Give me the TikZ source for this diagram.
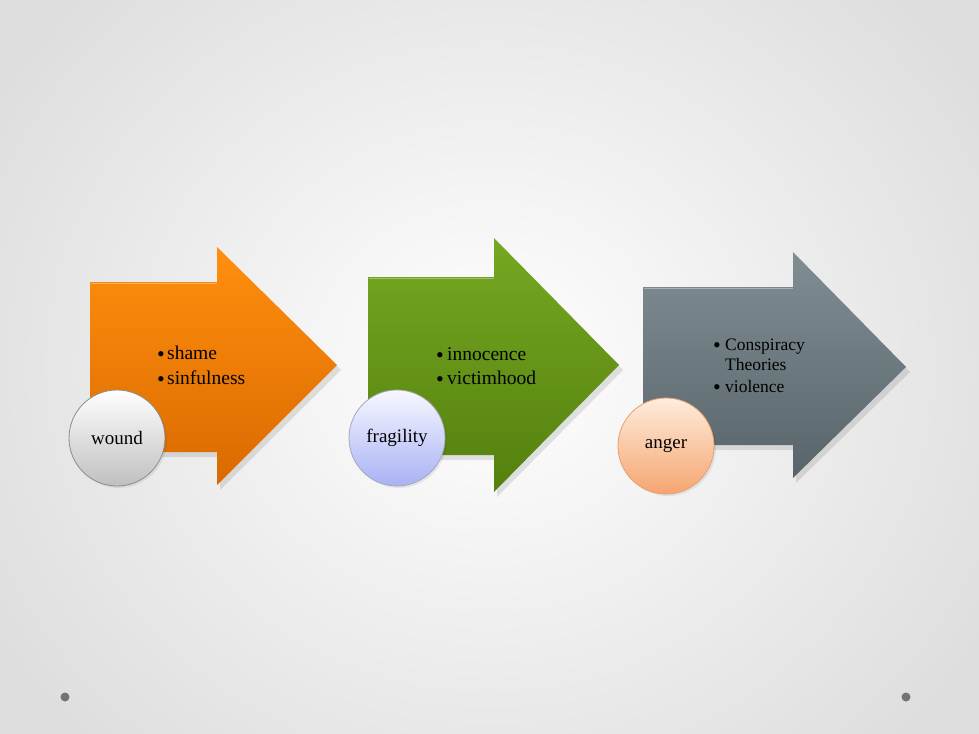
\documentclass[tikz,border=0pt]{standalone}
\usepackage{fontspec}
\setmainfont{Liberation Serif}
\begin{document}
\begin{tikzpicture}[x=1pt,y=-1pt,
  arrowshape/.style={draw=none},
  shadowshape/.style={fill=black,opacity=0.10,draw=none},
  circ/.style={circle,minimum size=96pt,inner sep=0pt,line width=0.8pt,font=\fontsize{19}{22}\selectfont},
  itm/.style={anchor=base west,inner sep=0pt,font=\fontsize{19.5}{24}\selectfont},
  itms/.style={anchor=base west,inner sep=0pt,font=\fontsize{17.5}{21}\selectfont},
  bul/.style={anchor=base,inner sep=0pt,yshift=-2pt,font=\fontsize{22}{24}\selectfont},
  dot/.style={circle,fill=black!55,inner sep=0pt,minimum size=9pt}
]
\definecolor{orT}{RGB}{255,143,14}
\definecolor{orB}{RGB}{218,106,0}
\definecolor{grT}{RGB}{118,168,34}
\definecolor{grB}{RGB}{84,128,14}
\definecolor{gyT}{RGB}{128,142,148}
\definecolor{gyB}{RGB}{88,100,106}
\useasboundingbox (0,0) rectangle (979,733);
\shade[inner color=white, outer color=black!13] (-90,-160) rectangle (1069,893);
% shadows
\fill[shadowshape] (93,287) -- (220,287) -- (220,252) -- (341,370) -- (220,490) -- (220,457) -- (93,457) -- cycle;
\fill[shadowshape] (371,282) -- (497,282) -- (497,243) -- (623,370) -- (497,497) -- (497,460) -- (371,460) -- cycle;
\fill[shadowshape] (646,292) -- (796,292) -- (796,257) -- (910,372) -- (796,483) -- (796,450) -- (646,450) -- cycle;
% arrows
\shade[arrowshape,top color=orT,bottom color=orB] (90,282) -- (217,282) -- (217,247) -- (337,365) -- (217,485) -- (217,452) -- (90,452) -- cycle;
\shade[arrowshape,top color=grT,bottom color=grB] (368,277) -- (494,277) -- (494,238) -- (619,365) -- (494,492) -- (494,455) -- (368,455) -- cycle;
\shade[arrowshape,top color=gyT,bottom color=gyB] (643,287) -- (793,287) -- (793,252) -- (906,367) -- (793,478) -- (793,445) -- (643,445) -- cycle;
% highlight edges
\draw[white,opacity=0.35,line width=1pt] (91,283) -- (217,283);
\draw[white,opacity=0.35,line width=1pt] (369,278) -- (494,278);
\draw[white,opacity=0.35,line width=1pt] (644,288) -- (793,288);
% bullet texts arrow 1
\node[bul] (b1a) at (161,359) {•};
\node[itm] (t1a) at (167,359) {shame};
\node[bul] (b1b) at (161,384) {•};
\node[itm] (t1b) at (167,384) {sinfulness};
% arrow 2
\node[bul] (b2a) at (440,360) {•};
\node[itm] (t2a) at (447,360) {innocence};
\node[bul] (b2b) at (440,384) {•};
\node[itm] (t2b) at (447,384) {victimhood};
% arrow 3
\node[bul] (b3a) at (717,350) {•};
\node[itms] (t3a) at (725,350) {Conspiracy};
\node[itms] (t3b) at (725,370) {Theories};
\node[bul] (b3c) at (717,392) {•};
\node[itms] (t3c) at (725,392) {violence};
% circles
\fill[black,opacity=0.07] (119,440) circle (48);
\fill[black,opacity=0.07] (399,440) circle (48);
\fill[black,opacity=0.07] (668,448) circle (48);
\node[circ,draw=black!45,top color=white,bottom color=black!25] (c1) at (117,438) {wound};
\node[circ,draw=blue!25!black!35,top color=blue!3!white,bottom color={rgb,255:red,168;green,178;blue,244}] (c2) at (397,438) {fragility};
\node[circ,draw={rgb,255:red,230;green,160;blue,110},top color={rgb,255:red,255;green,236;blue,220},bottom color={rgb,255:red,245;green,165;blue,112}] (c3) at (666,446) {anger};
% corner dots
\node[dot] (d1) at (65,697) {};
\node[dot] (d2) at (906,697) {};
\end{tikzpicture}
\end{document}
